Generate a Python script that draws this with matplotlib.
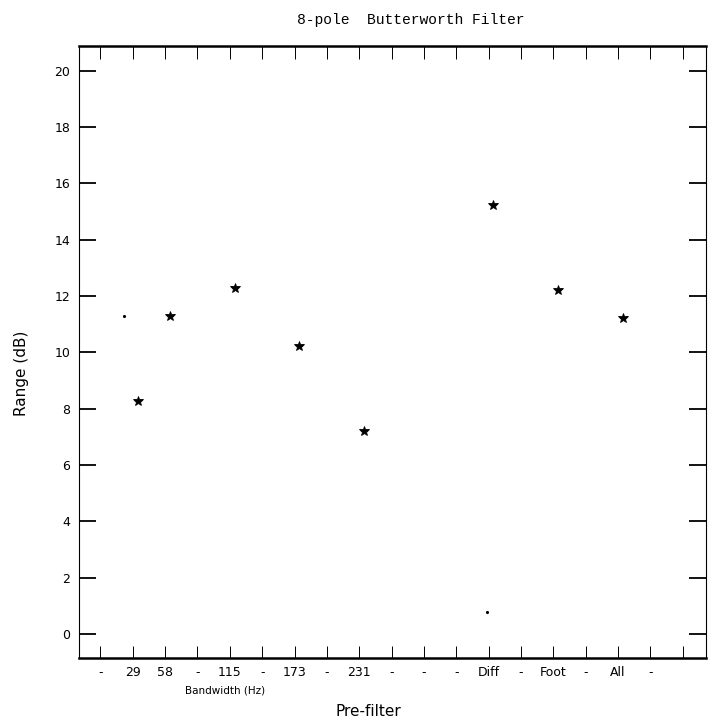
"""Range vs. pre-filter setting, 8-pole Butterworth filter."""
import numpy as np
import matplotlib
matplotlib.use("Agg")
import matplotlib.pyplot as plt

# ----------------------------------------------------------------
# data
# ----------------------------------------------------------------
tick_pos    = list(range(1, 20))
tick_labels = ["-", "29", "58", "-", "115", "-", "173", "-", "231", "-",
               "-", "-", "Diff", "-", "Foot", "-", "All", "-", ""]

star_x = [2.15, 3.15, 5.15, 7.15, 9.15, 13.15, 15.15, 17.15]
star_y = [8.27, 11.29, 12.27, 10.22, 7.22, 15.23, 12.21, 11.22]

dot_x = [1.72, 12.95]
dot_y = [11.3, 0.78]

y_ticks = [0, 2, 4, 6, 8, 10, 12, 14, 16, 18, 20]
y_tick_labels = ["0", "2", "4", "6", "8", "10", "12", "14", "16", "18", "20"]

# ----------------------------------------------------------------
# plot
# ----------------------------------------------------------------
fig = plt.figure(figsize=(7.16, 7.25), dpi=100)
ax = fig.add_axes([0.110, 0.0924, 0.876, 0.8442])

ax.plot(star_x, star_y, "*", color="black", markersize=7,
        markeredgewidth=0.6)
ax.plot(dot_x, dot_y, ".", color="black", markersize=2.5)

ax.set_xlim(0.33, 19.72)
ax.set_ylim(-0.85, 20.88)

ax.set_xticks(tick_pos)
ax.set_xticklabels(tick_labels, fontsize=9)
ax.set_yticks(y_ticks)
ax.set_yticklabels(y_tick_labels, fontsize=9)

ax.tick_params(axis="x", direction="in", length=9, width=0.7, pad=6,
               top=True, bottom=True)
ax.tick_params(axis="y", direction="in", length=12, width=1.3, pad=6,
               left=True, right=True)

for side in ("top", "bottom"):
    ax.spines[side].set_linewidth(1.8)
for side in ("left", "right"):
    ax.spines[side].set_linewidth(0.8)

fig.text(0.573, 0.973, "8-pole  Butterworth Filter",
         family="Liberation Mono", fontsize=10.5, ha="center", va="center")
fig.text(0.030, 0.485, "Range (dB)", rotation=90,
         fontsize=11, ha="center", va="center")
fig.text(0.315, 0.048, "Bandwidth (Hz)", fontsize=7.5,
         ha="center", va="center")
fig.text(0.515, 0.018, "Pre-filter", fontsize=11,
         ha="center", va="center")

fig.savefig("out.png", dpi=100)
plt.close(fig)
